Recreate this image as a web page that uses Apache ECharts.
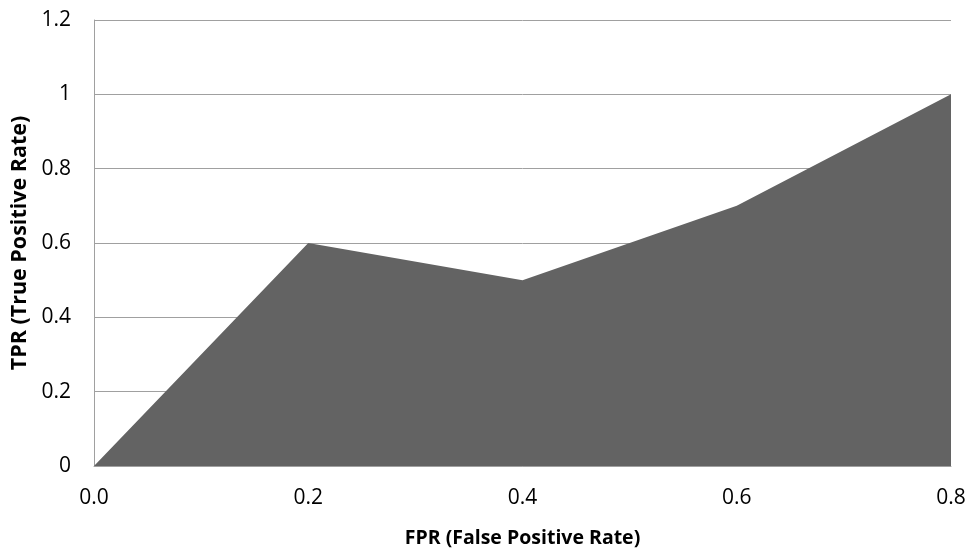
<!DOCTYPE html>
<html><head><meta charset="utf-8">
<script src="https://cdn.jsdelivr.net/npm/echarts@6/dist/echarts.min.js"></script>
<style>html,body{margin:0;padding:0;background:#fff}#c{width:970px;height:549px}</style>
</head><body><div id="c"></div>
<script>
const categories = ['0.0', '0.2', '0.4', '0.6', '0.8'];
const tprValues = [0, 0.6, 0.5, 0.7, 1.0];
const xTitle = 'FPR (False Positive Rate)';
const yTitle = 'TPR (True Positive Rate)';
const font = "Open Sans";
const chart = echarts.init(document.getElementById('c'));
chart.setOption({
  animation: false,
  grid: { left: 94, right: 19, top: 20, bottom: 83, containLabel: false, outerBoundsMode: 'none' },
  xAxis: {
    type: 'category', data: categories, boundaryGap: false,
    axisLine: { show: true, lineStyle: { color: '#a0a0a0', width: 1 } },
    axisTick: { show: false },
    axisLabel: { color: '#000', fontFamily: font, fontSize: 21, margin: 22 },
    splitLine: { show: false },
    name: xTitle, nameLocation: 'middle', nameGap: 62,
    nameTextStyle: { color: '#000', fontFamily: font, fontSize: 19.5, fontWeight: 'bold' }
  },
  yAxis: {
    type: 'value', min: 0, max: 1.2, interval: 0.2,
    axisLine: { show: true, lineStyle: { color: '#a0a0a0', width: 1 } },
    axisTick: { show: false },
    axisLabel: { color: '#000', fontFamily: font, fontSize: 21, margin: 23,
      formatter: v => String(Math.round(v * 10) / 10) },
    splitLine: { show: true, lineStyle: { color: '#a0a0a0', width: 1 } },
    name: yTitle, nameLocation: 'middle', nameGap: 62, nameRotate: 90,
    nameTextStyle: { color: '#000', fontFamily: font, fontSize: 21.5, fontWeight: 'bold' }
  },
  series: [{
    type: 'line', data: tprValues, symbol: 'none',
    lineStyle: { width: 0 },
    areaStyle: { color: '#636363', opacity: 1 }
  }]
});
</script></body></html>
